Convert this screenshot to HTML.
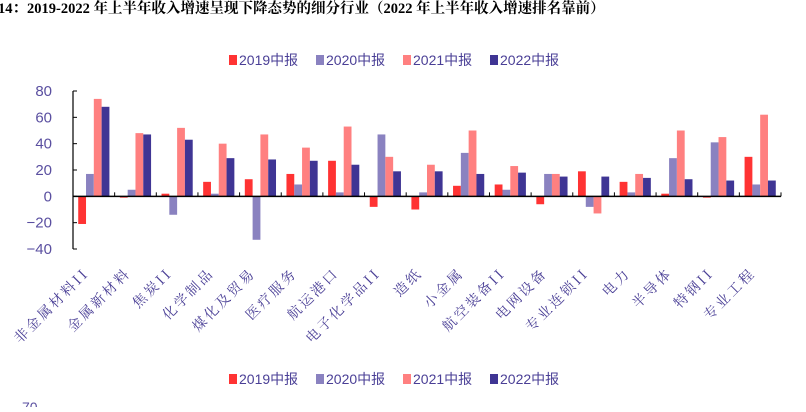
<!DOCTYPE html>
<html><head><meta charset="utf-8"><style>
body{margin:0;width:806px;height:407px;overflow:hidden;background:#fff;font-family:"Liberation Sans","Noto Sans CJK SC",sans-serif}
</style></head><body>
<svg width="806" height="407" xmlns="http://www.w3.org/2000/svg">
<text x="-2" y="13" font-size="14.5" font-weight="bold" fill="#000" font-family="Liberation Serif, Noto Serif CJK SC, serif">14：2019-2022 年上半年收入增速呈现下降态势的细分行业（2022 年上半年收入增速排名靠前）</text>
<g id="legend-top"></g>
<g id="legend-bottom"></g>
<g id="plot"></g>
<text x="22" y="412" font-size="14" fill="#5a4fa0">70</text>
</svg>
<script>
const categories=["非金属材料II","金属新材料","焦炭II","化学制品","煤化及贸易","医疗服务","航运港口","电子化学品II","造纸","小金属","航空装备II","电网设备","专业连锁II","电力","半导体","特钢II","专业工程"];
const seriesNames=["2019中报","2020中报","2021中报","2022中报"];
const s2019=[-21,-1,2,11,13,17,27,-8,-10,8,9,-6,19,11,2,-1,30];
const s2020=[17,5,-14,2,-33,9,3,47,3,33,5,17,-8,3,29,41,9];
const s2021=[74,48,52,40,47,37,53,30,24,50,23,17,-13,17,50,45,62];
const s2022=[68,47,43,29,28,27,24,19,19,17,18,15,15,14,13,12,12];
const yTicks=[80,60,40,20,0,-20,-40];
const colors=["#ff3333","#8a82c0","#ff8080","#3f3594"];
const NS="http://www.w3.org/2000/svg";
const x0=73,x1=781,yTop=91,yBot=249,vMax=80,vMin=-40;
const y=v=>yTop+(vMax-v)*(yBot-yTop)/(vMax-vMin);
const bw=(x1-x0)/categories.length;
const plot=document.getElementById('plot');
function mk(tag,attrs,parent){const e=document.createElementNS(NS,tag);for(const k in attrs)e.setAttribute(k,attrs[k]);parent.appendChild(e);return e;}
let ax=mk('line',{x1:x0,y1:yTop,x2:x0,y2:yBot,stroke:'#000','stroke-width':1.2},plot);


yTicks.forEach(t=>{
  const tk=mk('line',{x1:x0,y1:y(t),x2:x0+4,y2:y(t),stroke:'#000'},plot);
  
  
  const tx=mk('text',{x:x0-21,y:y(t)+5,'font-size':15,fill:'#5a4fa0','text-anchor':'end'},plot);
  tx.textContent=(t<0?'−'+(-t):t);
  
  
});
const all=[s2019,s2020,s2021,s2022];
const barW=7.8;
categories.forEach((c,i)=>{
  const cx=x0+bw*i+bw/2;
  all.forEach((s,j)=>{
    const v=s[i];const bx=cx-2*barW+j*barW;
    const r=mk('rect',{x:bx,y:Math.min(y(v),y(0)),width:barW,height:Math.max(Math.abs(y(v)-y(0)),0.8),fill:colors[j]},plot);
    
    
  });
  const tk=mk('line',{x1:x0+bw*(i+1),y1:y(0),x2:x0+bw*(i+1),y2:y(0)-4,stroke:'#000'},plot);
  
  
  const lx=cx-4,ly=274;
  const t=mk('text',{x:lx,y:ly,'font-size':14,fill:'#4a3f96','text-anchor':'end','letter-spacing':'2.5','font-family':'Noto Serif CJK SC, serif',transform:`rotate(-45 ${lx} ${ly})`},plot);
  t.textContent=c;
  
  
});
let zl=mk('line',{x1:x0,y1:y(0),x2:x1,y2:y(0),stroke:'#000','stroke-width':1.5},plot);


function legend(id,yy){
  const g=document.getElementById(id);
  const xs=[229,316,403,490];
  seriesNames.forEach((n,j)=>{
    const r=mk('rect',{x:xs[j],y:yy-10,width:8,height:10,fill:colors[j]},g);
    
    
    const t=mk('text',{x:xs[j]+10,y:yy,'font-size':14,fill:'#4a3f96'},g);
    t.textContent=n;
    
    
  });
}
legend('legend-top',65);
legend('legend-bottom',384);
</script>
</body></html>
